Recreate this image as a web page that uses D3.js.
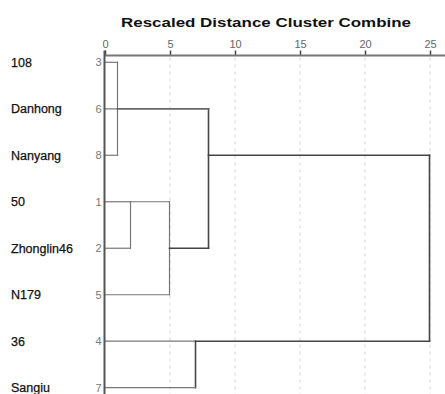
<!DOCTYPE html>
<html>
<head>
<meta charset="utf-8">
<script src="https://cdn.jsdelivr.net/npm/d3@7"></script>
<style>
  html, body { margin: 0; padding: 0; background: #fff; }
  svg { display: block; font-family: "Liberation Sans", Arial, sans-serif; }
</style>
</head>
<body>
<svg id="chart" width="445" height="394"></svg>
<script>
// Leaves in display order, with their case numbers
const cultivars = ["108", "Danhong", "Nanyang", "50", "Zhonglin46", "N179", "36", "Sangiu"];
const caseNumbers = [3, 6, 8, 1, 2, 5, 4, 7];

// Agglomeration steps: members (leaf indices or earlier step ids) and rescaled distance
const mergeIds = ["a", "b", "c", "d", "e", "f"];
const mergeMembers = [
  [0, 2],            // a: 108 + Nanyang
  [3, 4],            // b: 50 + Zhonglin46
  ["b", 5],          // c: (50, Zhonglin46) + N179
  [6, 7],            // d: 36 + Sangiu
  ["a", 1, "c"],     // e: (108, Nanyang) + Danhong + (50, Zhonglin46, N179)
  ["e", "d"]         // f: final join
];
const mergeHeights = [1, 2, 5, 7, 8, 25];

const axisTicks = [0, 5, 10, 15, 20, 25];
const title = "Rescaled Distance Cluster Combine";

const svg = d3.select("#chart");
const x = d3.scaleLinear().domain([0, 25]).range([104.5, 429.5]);
const y = d3.scaleLinear().domain([0, cultivars.length - 1]).range([62.3, 387.7]);
const axisY = 55.5;

// resolve node row and height
const nodes = {};
cultivars.forEach((c, i) => { nodes[i] = { row: i, h: 0, leaf: true }; });
mergeIds.forEach((id, k) => {
  const kids = mergeMembers[k].map(m => nodes[m]);
  const rows = kids.map(n => n.row);
  const lo = d3.min(rows), hi = d3.max(rows);
  nodes[id] = { row: Math.floor((lo + hi) / 2), h: mergeHeights[k], leaf: false, kids, lo, hi };
});

// dashed grid
svg.append("g").selectAll("line")
  .data(axisTicks.filter(t => t > 0))
  .join("line")
  .attr("x1", d => x(d) + 0.5).attr("x2", d => x(d) + 0.5)
  .attr("y1", axisY + 2).attr("y2", 394)
  .attr("stroke", "#d4d4d4").attr("stroke-width", 1)
  .attr("stroke-dasharray", "3,4");

// title
svg.append("text")
  .attr("x", 121).attr("y", 27)
  .attr("font-size", 13.5).attr("font-weight", "bold")
  .attr("textLength", 290).attr("lengthAdjust", "spacingAndGlyphs")
  .attr("fill", "#111")
  .text(title);

// top axis
const axis = d3.axisTop(x).tickValues(axisTicks).tickSize(5).tickPadding(3);
const ag = svg.append("g").attr("transform", `translate(0.5,${axisY})`).call(axis);
ag.select(".domain").remove();
ag.selectAll(".tick line").attr("stroke", "#444").attr("stroke-width", 1.5);
ag.selectAll(".tick text").attr("font-size", 11).attr("fill", "#666")
  .attr("font-family", "Liberation Sans, Arial, sans-serif");
svg.append("line")
  .attr("x1", x(0)).attr("x2", 445).attr("y1", axisY).attr("y2", axisY)
  .attr("stroke", "#777").attr("stroke-width", 2);

// dendrogram segments
const segs = [];
Object.values(nodes).forEach(n => {
  if (n.leaf) return;
  segs.push({ x1: n.h, x2: n.h, r1: n.lo, r2: n.hi, strong: n.h >= 7 });
  n.kids.forEach(k => segs.push({ x1: k.h, x2: n.h, r1: k.row, r2: k.row, strong: !k.leaf && n.h >= 7 }));
});
svg.append("g").selectAll("line")
  .data(segs)
  .join("line")
  .attr("x1", d => x(d.x1)).attr("x2", d => x(d.x2))
  .attr("y1", d => y(d.r1)).attr("y2", d => y(d.r2))
  .attr("stroke", d => d.strong ? "#444" : "#777")
  .attr("stroke-width", d => d.strong ? 1.6 : 1.2)
  .attr("stroke-linecap", "square");

// left baseline
svg.append("line")
  .attr("x1", x(0)).attr("x2", x(0)).attr("y1", axisY - 5).attr("y2", 394)
  .attr("stroke", "#555").attr("stroke-width", 2);

// case numbers
svg.append("g").selectAll("text")
  .data(caseNumbers)
  .join("text")
  .attr("x", x(0) - 3).attr("y", (d, i) => y(i) + 4)
  .attr("text-anchor", "end")
  .attr("font-size", 11).attr("fill", "#777")
  .text(d => d);

// cultivar names
svg.append("g").selectAll("text")
  .data(cultivars)
  .join("text")
  .attr("x", 11).attr("y", (d, i) => y(i) + 4.5)
  .attr("font-size", 12.5).attr("fill", "#111")
  .attr("stroke", "#111").attr("stroke-width", 0.25)
  .text(d => d);
</script>
</body>
</html>
